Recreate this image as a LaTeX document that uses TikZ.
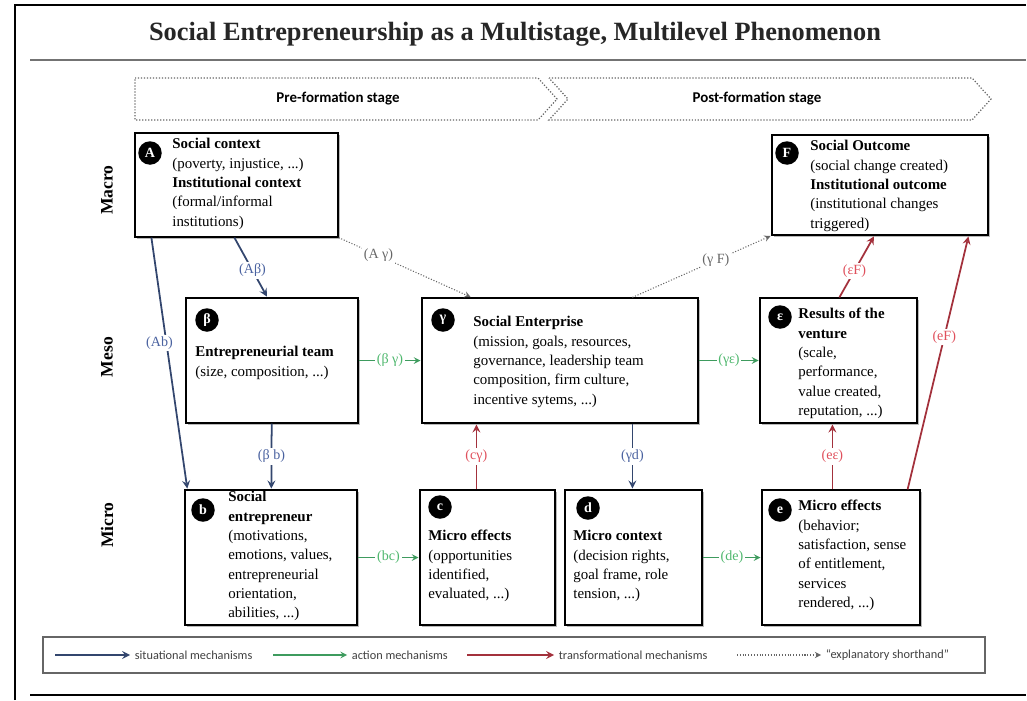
\documentclass[tikz,border=0pt]{standalone}
\usepackage{fontspec}
\setmainfont{Liberation Serif}
\newfontfamily\sansf{Carlito}
\usepackage{tikz}
\usetikzlibrary{positioning,fit,shadows}
\definecolor{sitblue}{HTML}{33466E}
\definecolor{sitlab}{HTML}{4A62A0}
\definecolor{actgreen}{HTML}{3E9B5E}
\definecolor{actlab}{HTML}{4FB86E}
\definecolor{transred}{HTML}{A3313C}
\definecolor{translab}{HTML}{E0505C}

\begin{document}
\begin{tikzpicture}[%
    x=0.02cm,y=-0.02cm,>=stealth,shorten >=0.5pt,
    box/.style={draw,line width=0.7pt,fill=white,inner sep=0pt,
      drop shadow={shadow xshift=1pt,shadow yshift=-1pt,fill=black!55}},
    txt/.style={anchor=north west,align=left,inner sep=0pt,
      font=\fontsize{8.5}{11}\selectfont},
    tag/.style={circle,fill=black,text=white,minimum size=0.47cm,inner sep=0pt,
      font=\bfseries\fontsize{8}{9}\selectfont},
    lvl/.style={rotate=90,font=\bfseries\fontsize{10}{12}\selectfont},
    stg/.style={font=\sansf\bfseries\fontsize{8.5}{10}\selectfont},
    stgline/.style={densely dotted,draw=black!60,line width=0.7pt},
    sit/.style={->,draw=sitblue,line width=1pt},
    act/.style={->,draw=actgreen,line width=0.7pt},
    trans/.style={->,draw=transred,line width=1pt},
    expl/.style={->,draw=black!60,densely dotted,line width=0.6pt},
    lab/.style={fill=white,inner sep=1pt,font=\fontsize{8}{9}\selectfont},
    slab/.style={lab,text=sitlab},
    alab/.style={lab,text=actlab},
    tlab/.style={lab,text=translab},
    elab/.style={lab,text=black!60},
    leg/.style={anchor=west,inner sep=2pt,text=black!75,font=\sansf\fontsize{7}{8}\selectfont}
  ]
    \useasboundingbox (0,0) rectangle (1027,700);
    \draw[line width=1pt] (15,700) -- (15,5) -- (1027,5);
    \draw[line width=1.5pt] (30,695) -- (1027,695);
    \draw[black!55,line width=0.8pt] (30,60) -- (1027,60);

    \node[font=\bfseries\fontsize{15}{18}\selectfont,text=black!85] (title) at (515,34)
      {Social Entrepreneurship as a Multistage, Multilevel Phenomenon};

    \draw[stgline] (135,78) -- (538,78) -- (557,99) -- (538,120) -- (135,120) -- cycle;
    \draw[stgline] (549,78) -- (972,78) -- (991,99) -- (972,120) -- (549,120) -- (568,99) -- cycle;
    \node[stg] (pre)  at (338,99) {Pre-formation stage};
    \node[stg] (post) at (757,99) {Post-formation stage};

    \node[lvl] (macro) at (107,190) {Macro};
    \node[lvl] (meso)  at (107,357) {Meso};
    \node[lvl] (micro) at (107,525) {Micro};

    \node[box,fit={(135,133) (338,237)}] (A)    {};
    \node[box,fit={(772,135) (988,235)}] (F)    {};
    \node[box,fit={(186,298) (358,423)}] (beta) {};
    \node[box,fit={(422,298) (698,423)}] (gam)  {};
    \node[box,fit={(760,298) (917,423)}] (eps)  {};
    \node[box,fit={(185,490) (357,625)}] (b)    {};
    \node[box,fit={(420,490) (555,625)}] (c)    {};
    \node[box,fit={(565,490) (702,625)}] (d)    {};
    \node[box,fit={(762,490) (920,625)}] (e)    {};

    \node[tag] (tA)    at (150,153) {A};
    \node[tag] (tF)    at (787,153) {F};
    \node[tag] (tbeta) at (207,320) {β};
    \node[tag] (tgam)  at (443,320) {γ};
    \node[tag] (teps)  at (780,317) {ε};
    \node[tag] (tb)    at (203,510) {b};
    \node[tag] (tc)    at (440,507) {c};
    \node[tag] (td)    at (588,508) {d};
    \node[tag] (te)    at (780,510) {e};

    \node[txt] (xA)    at (172,138) {\textbf{Social context}\\(poverty, injustice, ...)\\\textbf{Institutional context}\\(formal/informal\\institutions)};
    \node[txt] (xF)    at (810,140) {\textbf{Social Outcome}\\(social change created)\\\textbf{Institutional outcome}\\(institutional changes\\triggered)};
    \node[txt] (xbeta) at (195,346) {\textbf{Entrepreneurial team}\\(size, composition, ...)};
    \node[txt] (xgam)  at (473,316) {\textbf{Social Enterprise}\\(mission, goals, resources,\\governance, leadership team\\composition, firm culture,\\incentive sytems, ...)};
    \node[txt] (xeps)  at (798,308) {\textbf{Results of the}\\\textbf{venture}\\(scale,\\performance,\\value created,\\reputation, ...)};
    \node[txt] (xb)    at (228,491) {\textbf{Social}\\\textbf{entrepreneur}\\(motivations,\\emotions, values,\\entrepreneurial\\orientation,\\abilities, ...)};
    \node[txt] (xc)    at (428,530) {\textbf{Micro effects}\\(opportunities\\identified,\\evaluated, ...)};
    \node[txt] (xd)    at (573,530) {\textbf{Micro context}\\(decision rights,\\goal frame, role\\tension, ...)};
    \node[txt] (xe)    at (798,500) {\textbf{Micro effects}\\(behavior;\\satisfaction, sense\\of entitlement,\\services\\rendered, ...)};

    \path ([shift={(17,0)}]A.south west)    edge[sit]   node[slab,pos=.42,xshift=-4pt] {(Ab)} ([shift={(3,0)}]b.north west)
          ([shift={(100,0)}]A.south west)   edge[sit]   node[slab,pos=.55] {(Aβ)} ([shift={(82,0)}]beta.north west)
          (A.south east)                    edge[expl]  node[elab,pos=.3]  {(A γ)} ([shift={(50,0)}]gam.north west)
          ([shift={(211,0)}]gam.north west) edge[expl]  node[elab,pos=.6]  {(γ F)} (F.south west)
          (beta)                            edge[act]   node[alab] {(β γ)} (gam)
          (gam)                             edge[act]   node[alab] {(γε)} (eps)
          ([shift={(80,0)}]eps.north west)  edge[trans] node[tlab,pos=.43] {(εF)} ([shift={(103,0)}]F.south west)
          ([shift={(-13,0)}]e.north east)   edge[trans] node[tlab,pos=.6]  {(eF)} ([shift={(-20,0)}]F.south east)
          (beta)                            edge[sit]   node[slab] {(β b)} (b)
          ([shift={(57,0)}]c.north west)    edge[trans] node[tlab] {(cγ)} ([shift={(55,0)}]gam.south west)
          ([shift={(211,0)}]gam.south west) edge[sit]   node[slab] {(γd)} ([shift={(68,0)}]d.north west)
          ([shift={(71,0)}]e.north west)    edge[trans] node[tlab] {(eε)} ([shift={(73,0)}]eps.south west)
          (b)                               edge[act]   node[alab] {(bc)} (c)
          (d)                               edge[act]   node[alab] {(de)} (e);

    \node[draw=black!60,line width=0.6pt,inner sep=0pt,fit={(43,637) (985,673)}] (legend) {};
    \coordinate (l1) at (55,655);
    \coordinate (l2) at (273,655);
    \coordinate (l3) at (467,655);
    \coordinate (l4) at (737,655);
    \node[leg] (sitl)   at (131,655) {situational mechanisms};
    \node[leg] (actl)   at (348,655) {action mechanisms};
    \node[leg] (transl) at (555,655) {transformational mechanisms};
    \node[leg] (expll)  at (822,655) {“explanatory shorthand”};
    \draw[sit]   (l1) -- (sitl);
    \draw[act]   (l2) -- (actl);
    \draw[trans] (l3) -- (transl);
    \draw[expl]  (l4) -- (expll);
  \end{tikzpicture}
\end{document}
